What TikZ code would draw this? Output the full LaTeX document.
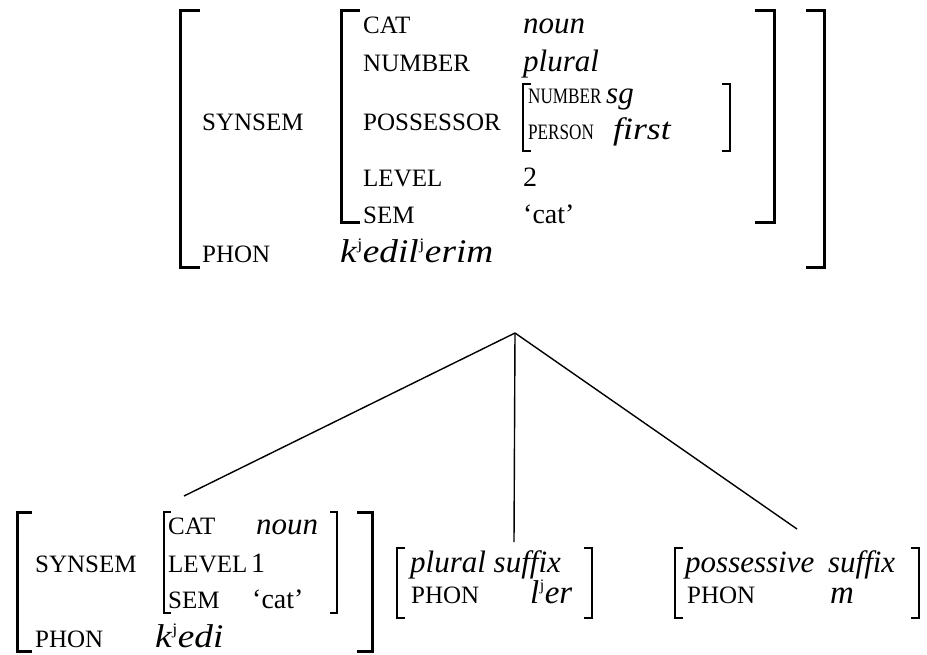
\documentclass[tikz,border=0pt]{standalone}
\usepackage{fontspec}
\setmainfont{Liberation Serif}
\usepackage{graphicx}
\newcommand\supj{\kern0.5pt\raisebox{12.5pt}{\fontsize{16}{16}\selectfont\upshape j}\kern0.5pt}
\newcommand\cond[1]{\scalebox{0.78}[1]{#1}}
\newcommand\wide[1]{\scalebox{1.13}[1]{#1}}
\begin{document}
\begin{tikzpicture}[x=1pt,y=-1pt,
  lab/.style={anchor=base west,inner sep=0pt,font=\fontsize{25}{30}\selectfont},
  slab/.style={anchor=base west,inner sep=0pt,font=\fontsize{22}{26}\selectfont},
  val/.style={anchor=base west,inner sep=0pt,font=\fontsize{31}{36}\selectfont\itshape},
  phonv/.style={anchor=base west,inner sep=0pt,font=\fontsize{33}{38}\selectfont\itshape},
  num/.style={anchor=base west,inner sep=0pt,font=\fontsize{28}{32}\selectfont},
  thickbr/.style={line width=3pt},
  thinbr/.style={line width=1.3pt},
  branch/.style={line width=1.4pt}]
\useasboundingbox (0,0) rectangle (927,654);

% ---------- top structure ----------
\draw[thickbr] (200,10) -- (180,10) -- (180,267) -- (200,267);
\draw[thickbr] (806,10) -- (824,10) -- (824,267) -- (806,267);
\node[lab] (tsynsem) at (202,130) {SYNSEM};
\node[lab] (tphon) at (202,262) {PHON};
\node[phonv] (tphonv) at (340,262) {\wide{k\supj edil\supj erim}};

\draw[thickbr] (360,10) -- (341,10) -- (341,222) -- (360,222);
\draw[thickbr] (755,10) -- (774,10) -- (774,222) -- (755,222);
\node[lab] (tcat) at (363,33) {CAT};
\node[lab] (tnumber) at (363,71) {NUMBER};
\node[lab] (tposs) at (363,130) {POSSESSOR};
\node[lab] (tlevel) at (363,186) {LEVEL};
\node[lab] (tsem) at (363,223) {SEM};
\node[val] (tcatv) at (523,33) {noun};
\node[val] (tnumberv) at (523,71) {plural};
\node[num] (tlevelv) at (523,186) {2};
\node[num] (tsemv) at (523,223) {`cat'};

\draw[thinbr] (531,84) -- (523,84) -- (523,151) -- (531,151);
\draw[thinbr] (722,84) -- (730,84) -- (730,151) -- (722,151);
\node[slab] (pnum) at (528,103) {\cond{NUMBER}};
\node[val] (pnumv) at (606,103) {sg};
\node[slab] (pper) at (528,139) {\cond{PERSON}};
\node[val] (pperv) at (613,139) {\scalebox{1.15}[1]{first}};

% ---------- tree ----------
\coordinate (apex) at (515,333);
\coordinate (lend) at (184,496);
\coordinate (mend) at (514,542);
\coordinate (rend) at (797,529);
\draw[branch] (apex) -- (lend);
\draw[branch] (apex) -- (mend);
\draw[branch] (apex) -- (rend);

% ---------- bottom left ----------
\draw[thickbr] (32,512) -- (17,512) -- (17,651) -- (32,651);
\draw[thickbr] (357,512) -- (372,512) -- (372,651) -- (357,651);
\node[lab] (bsynsem) at (35,572) {SYNSEM};
\node[lab] (bphon) at (35,647) {PHON};
\node[phonv] (bphonv) at (155,647) {\wide{k\supj edi}};
\draw[thinbr] (171,512) -- (164,512) -- (164,613) -- (171,613);
\draw[thinbr] (330,512) -- (337,512) -- (337,613) -- (330,613);
\node[lab] (bcat) at (168,534) {CAT};
\node[val] (bcatv) at (256,534) {noun};
\node[lab] (blevel) at (168,572) {LEVEL};
\node[num] (blevelv) at (251,572) {1};
\node[lab] (bsem) at (168,608) {SEM};
\node[num] (bsemv) at (252,608) {`cat'};

% ---------- bottom middle ----------
\draw[thinbr] (405,548) -- (397,548) -- (397,618) -- (405,618);
\draw[thinbr] (584,548) -- (592,548) -- (592,618) -- (584,618);
\node[val] (plsuf) at (410,572) {plural suffix};
\node[lab] (plphon) at (411,603) {PHON};
\node[phonv] (plphonv) at (530,603) {l\supj er};

% ---------- bottom right ----------
\draw[thinbr] (683,548) -- (675,548) -- (675,618) -- (683,618);
\draw[thinbr] (911,548) -- (919,548) -- (919,618) -- (911,618);
\node[val] (pssuf) at (685,572) {possessive\hspace{6pt} suffix};
\node[lab] (psphon) at (687,603) {PHON};
\node[phonv] (psphonv) at (830,603) {m};
\end{tikzpicture}
\end{document}
